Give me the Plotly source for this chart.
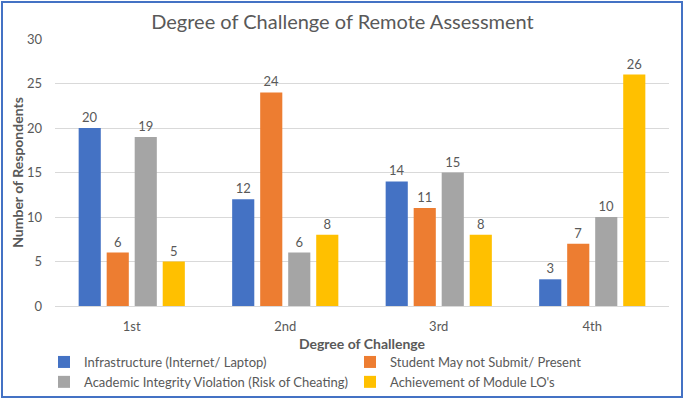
import plotly.graph_objects as go

categories = ["1st", "2nd", "3rd", "4th"]
series_names = [
    "Infrastructure (Internet/ Laptop)",
    "Student May not Submit/ Present",
    "Academic Integrity Violation (Risk of Cheating)",
    "Achievement of Module LO's",
]
infrastructure = [20, 12, 14, 3]
may_not_submit = [6, 24, 11, 7]
integrity = [19, 6, 15, 10]
module_los = [5, 8, 8, 26]
y_ticks = [0, 5, 10, 15, 20, 25, 30]

colors = ["#4472C4", "#ED7D31", "#A5A5A5", "#FFC000"]
text_grey = "#595959"
font_family = "Lato, 'Open Sans', sans-serif"

fig = go.Figure()
for name, vals, col in zip(series_names, [infrastructure, may_not_submit, integrity, module_los], colors):
    fig.add_trace(go.Bar(
        x=categories,
        y=vals,
        name=name,
        marker=dict(color=col, line=dict(width=0)),
        text=vals,
        textposition="outside",
        textfont=dict(size=13, color=text_grey, family=font_family),
        cliponaxis=False,
    ))

# plot area in pixels: left 55, right 669, top 39, bottom 306
L, R, T, B = 55, 16, 39, 94
W, H = 685, 400
pw, ph = W - L - R, H - T - B

def px_x(x):
    return (x - L) / pw

def px_y(y):
    return (H - B - y) / ph

# blue frame round the whole chart
fig.add_shape(
    type="rect", xref="paper", yref="paper",
    x0=px_x(2), x1=px_x(682), y0=px_y(397), y1=px_y(2),
    line=dict(color="#4472C4", width=2), fillcolor="rgba(0,0,0,0)", layer="below",
)

fig.update_layout(
    width=W, height=H,
    margin=dict(l=L, r=R, t=T, b=B, autoexpand=False),
    paper_bgcolor="white",
    plot_bgcolor="white",
    barmode="group",
    bargap=0.27,
    bargroupgap=0.21,
    font=dict(family=font_family, color=text_grey, size=13),
    title=dict(
        text="Degree of Challenge of Remote Assessment",
        x=0.5, xref="container", xanchor="center",
        y=1 - 22 / H, yanchor="middle",
        font=dict(size=20, color=text_grey, family=font_family),
    ),
    xaxis=dict(
        title=dict(text="<b>Degree of Challenge</b>", font=dict(size=14, color=text_grey), standoff=6),
        showgrid=False,
        showline=True, linecolor="#D9D9D9", linewidth=1,
        ticks="", ticklabelstandoff=8,
        tickfont=dict(size=13, color=text_grey),
    ),
    yaxis=dict(
        title=dict(text="<b>Number of Respondents</b>", font=dict(size=14, color=text_grey), standoff=0),
        range=[0, 30],
        tickvals=y_ticks,
        showgrid=True, gridcolor="#D9D9D9", gridwidth=1,
        zeroline=False,
        tickfont=dict(size=13, color=text_grey),
        ticklabelstandoff=12,
    ),
    legend=dict(
        orientation="h",
        x=px_x(44), xanchor="left",
        y=px_y(347), yanchor="top",
        entrywidth=261, entrywidthmode="pixels",
        font=dict(size=13, color=text_grey),
        itemsizing="constant",
        tracegroupgap=0,
        bgcolor="rgba(0,0,0,0)",
    ),
    showlegend=True,
)

# drop the page's default 8px body margin so the chart sits at the window origin
fig.write_html(
    "out.html",
    config={"displayModeBar": False},
    post_script="document.body.style.margin='0';",
)
